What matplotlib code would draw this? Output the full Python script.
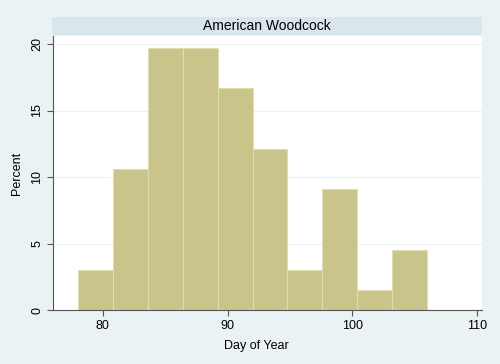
import matplotlib
matplotlib.use("Agg")
import matplotlib.pyplot as plt
from matplotlib.patches import Rectangle

plt.rcParams['font.family'] = ['Liberation Sans', 'DejaVu Sans']

# histogram bins (day of year) and percent per bin
bin_edges = [78.0, 80.8, 83.6, 86.4, 89.2, 92.0, 94.8, 97.6, 100.4, 103.2, 106.0]
percent = [3.03, 10.61, 19.70, 19.70, 16.67, 12.12, 3.03, 9.09, 1.52, 4.55]
x_ticks = [80, 90, 100, 110]
y_ticks = [0, 5, 10, 15, 20]
title = "American Woodcock"

bg = '#EAF2F3'
strip = '#D9E6EB'
bar_col = '#C9C48A'

fig = plt.figure(figsize=(5, 3.64), dpi=100, facecolor=bg)
ax = fig.add_axes([0.106, 0.148, 0.858, 0.753])
ax.set_facecolor('white')

widths = [b - a for a, b in zip(bin_edges[:-1], bin_edges[1:])]
ax.bar(bin_edges[:-1], percent, width=widths, align='edge',
       color=bar_col, edgecolor='#E2DDB0', linewidth=0.8, zorder=2)

ax.set_xlim(76, 110.4)
ax.set_ylim(0, 20.6)
ax.set_xticks(x_ticks)
ax.set_yticks(y_ticks)
ax.yaxis.grid(True, color=bg, linewidth=0.8, zorder=0)
ax.set_axisbelow(True)

for s in ['top', 'right']:
    ax.spines[s].set_visible(False)
for s in ['left', 'bottom']:
    ax.spines[s].set_color('#555555')
    ax.spines[s].set_linewidth(0.8)
ax.tick_params(direction='out', length=4, width=0.8, color='#555555',
               labelsize=9, pad=3)
plt.setp(ax.get_yticklabels(), rotation=90, va='center')

ax.set_xlabel("Day of Year", fontsize=9, labelpad=6)
ax.xaxis.label.set_x(0.473)
ax.set_ylabel("Percent", fontsize=9, labelpad=6)

# title strip above the plot region
fig.patches.append(Rectangle((0.104, 1 - 35 / 364), 0.860, 18 / 364,
                             transform=fig.transFigure, facecolor=strip,
                             edgecolor='none'))
fig.text(0.534, 1 - 26 / 364, title, ha='center', va='center', fontsize=10)

fig.savefig("out.png", dpi=100, facecolor=bg)
